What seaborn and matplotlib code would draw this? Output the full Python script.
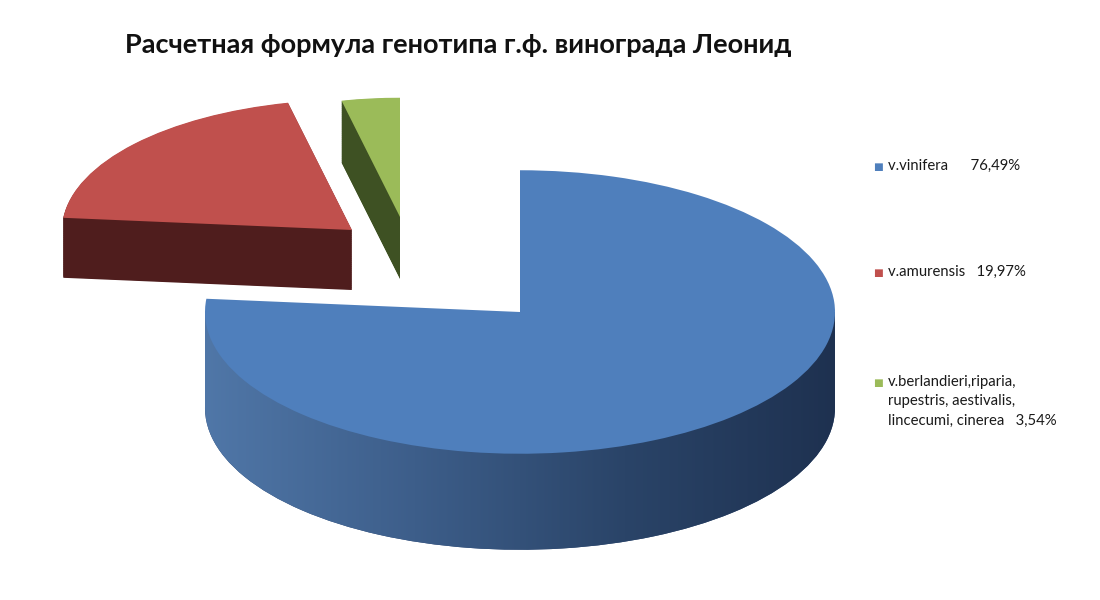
import numpy as np
import matplotlib
matplotlib.use("Agg")
import matplotlib.pyplot as plt
from matplotlib.patches import Rectangle
from matplotlib.colors import LinearSegmentedColormap
import seaborn as sns

# ---------------- data ----------------
title = "Расчетная формула генотипа г.ф. винограда Леонид"
species = ["v.vinifera",
           "v.amurensis",
           "v.berlandieri,riparia,\nrupestris, aestivalis,\nlincecumi, cinerea"]
shares = [76.49, 19.97, 3.54]
label_gaps = ["      ", "   ", "   "]

# ---------------- style ----------------
top_colors = ["#4f7fbc", "#c0504d", "#9bbb59"]
side_colors = ["#2c4670", "#4f1d1d", "#3e5123"]
blue_side_grad = ["#5077a8", "#3d5e8a", "#2a4468", "#1e3150"]

sns.set_theme(style="white")
plt.rcParams["font.family"] = ["Lato", "DejaVu Sans"]

W, H = 1100, 600
K = 0.45  # vertical squash of the tilted pie

fig = plt.figure(figsize=(11, 6), dpi=100)
fig.patch.set_facecolor("white")
ax = fig.add_axes([0, 0, 1, 1])


def ydata(img_y):
    return (H - img_y) / K


# per slice: centre x (px), centre y (image px), radius (px), depth (px), zorder base
layout = [(520, 312, 315, 96, 10), (352, 230, 290, 60, 2), (400, 217, 265, 62, 4)]


def pie_slice(i, cx, cy, r, color, z):
    cols = ["none"] * len(shares)
    cols[i] = color
    wedges, _ = ax.pie(shares, colors=cols, radius=r, center=(cx, cy),
                       startangle=90, counterclock=False, frame=True,
                       wedgeprops=dict(linewidth=0))
    for w in wedges:
        w.set_zorder(z)
    return wedges[i]


for i in (1, 2):
    cx, cy_img, r, depth, z = layout[i]
    cy = ydata(cy_img)
    d = depth / K
    for off in np.arange(d, 0, -1.5):
        pie_slice(i, cx, cy - off, r, side_colors[i], z)
    pie_slice(i, cx, cy, r, top_colors[i], z + 1)

# blue slice with gradient side
cx, cy_img, r, depth, z = layout[0]
cy = ydata(cy_img)
d = depth / K
bottom = pie_slice(0, cx, cy - d, r, side_colors[0], z)
band = Rectangle((cx - r, cy - d), 2 * r, d, facecolor="none", edgecolor="none",
                 transform=ax.transData)
ax.add_patch(band)
cmap = LinearSegmentedColormap.from_list("side", blue_side_grad)
grad = np.linspace(0, 1, 256)[None, :]
for clip in (bottom, band):
    im = ax.imshow(grad, cmap=cmap,
                   extent=(cx - r - 2, cx + r + 2, cy - d - 1.1 * r, cy + 0.1 * r),
                   aspect="auto", interpolation="bilinear", zorder=z + 1)
    im.set_clip_path(clip)
pie_slice(0, cx, cy, r, top_colors[0], z + 2)

ax.set_aspect("auto")
ax.set_xlim(0, W)
ax.set_ylim(0, H / K)
ax.set_axis_off()

# ---------------- title ----------------
fig.text(125 / W, 1 - 45 / H, title, ha="left", va="center",
         fontsize=19.5, fontweight="bold", color="#111111")

# ---------------- legend ----------------
legend_y = [167, 273, 383]
for name, val, gap, col, y in zip(species, shares, label_gaps, top_colors, legend_y):
    pct = f"{val:.2f}".replace(".", ",") + "%"
    fig.text(873 / W, 1 - y / H, "■", color=col, fontsize=7.5,
             family="DejaVu Sans", ha="left", va="center")
    fig.text(888 / W, 1 - (y - 8) / H, f"{name}{gap}{pct}", ha="left", va="top",
             fontsize=10.7, color="#1a1a1a", linespacing=1.5)

fig.savefig("out.png", dpi=100, facecolor="white")
